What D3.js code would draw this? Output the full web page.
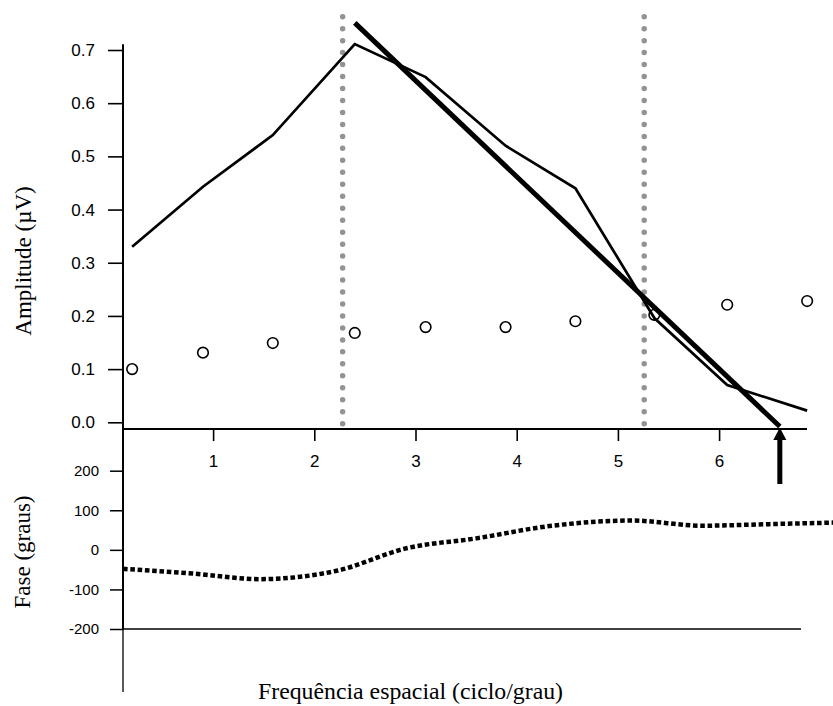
<!DOCTYPE html>
<html lang="en">
  <head>
    <meta charset="utf-8" />
    <title>Amplitude e fase por frequência espacial</title>
    <script src="https://d3js.org/d3.v7.min.js"></script>
    <style>
      body {
        margin: 0;
        background-color: #fff;
      }
      .tick text {
        font-family: "Liberation Sans", Arial, sans-serif;
        fill: #000;
      }
      .label {
        font-family: "Liberation Serif", "Times New Roman", serif;
        fill: #000;
      }
    </style>
  </head>
  <body>
    <div id="chart"></div>
    <script>
      // spatial frequencies (ciclo/grau) and measured amplitudes (µV)
      const freqs = [0.2, 0.9, 1.59, 2.4, 3.1, 3.89, 4.58, 5.36, 6.08, 6.87];
      const amplitude = [0.33, 0.443, 0.54, 0.711, 0.649, 0.52, 0.44, 0.196, 0.07, 0.022];
      const noise = [0.1, 0.131, 0.149, 0.168, 0.179, 0.179, 0.19, 0.202, 0.221, 0.228];

      // regression line and its x intercept (acuity)
      const fitFreq = [2.4, 6.6];
      const fitAmp = [0.751, -0.008];
      const acuity = 6.6;

      // range used for the fit
      const fitRange = [2.28, 5.26];

      // phase (graus)
      const phaseFreq = [0.11, 0.8, 1.46, 2.22, 2.91, 3.6, 4.35, 5.14, 5.83, 6.5, 7.15];
      const phaseDeg = [-48, -60, -74, -53, 4, 29, 61, 74, 61, 65, 69];

      const ampTicks = [0, 0.1, 0.2, 0.3, 0.4, 0.5, 0.6, 0.7];
      const freqTicks = [1, 2, 3, 4, 5, 6];
      const phaseTicks = [200, 100, 0, -100, -200];

      const W = 833, H = 706;
      const axisX = 123;      // shared vertical axis
      const xAxisY = 429;     // frequency axis line
      const xAxisEnd = 807;
      const phaseLineEnd = 801;
      const axisBottom = 692;

      const svg = d3
        .select("#chart")
        .append("svg")
        .attr("width", W)
        .attr("height", H);

      const x = d3.scaleLinear().domain([0, 7]).range([111.9, 111.9 + 7 * 101.2]);
      const yAmp = d3.scaleLinear().domain([0, 0.7]).range([422.3, 50]);
      const yPh = d3.scaleLinear().domain([-200, 200]).range([629, 470.7]);

      // dotted grey limits of the fit range
      svg
        .selectAll(".limit")
        .data(fitRange)
        .enter()
        .append("line")
        .attr("x1", (d) => x(d))
        .attr("x2", (d) => x(d))
        .attr("y1", 16.7)
        .attr("y2", 424)
        .attr("stroke", "#939393")
        .attr("stroke-width", 5.5)
        .attr("stroke-linecap", "round")
        .attr("stroke-dasharray", "0 11.97");

      // amplitude axis
      svg
        .append("g")
        .attr("transform", `translate(${axisX},0)`)
        .style("font-size", "17px")
        .call(
          d3.axisLeft(yAmp)
            .tickValues(ampTicks)
            .tickFormat((d) => d.toFixed(1))
            .tickSize(15)
            .tickPadding(13)
        )
        .call((g) => g.select(".domain").remove())
        .call((g) => g.selectAll("line").attr("stroke", "#000").attr("stroke-width", 1.6));

      // frequency axis
      svg
        .append("g")
        .attr("transform", `translate(0,${xAxisY})`)
        .style("font-size", "17px")
        .call(
          d3.axisBottom(x)
            .tickValues(freqTicks)
            .tickFormat((d) => String(d))
            .tickSize(12)
            .tickPadding(14)
        )
        .call((g) => g.select(".domain").remove())
        .call((g) => g.selectAll("line").attr("stroke", "#000").attr("stroke-width", 1.6));

      svg
        .append("line")
        .attr("x1", axisX)
        .attr("x2", xAxisEnd)
        .attr("y1", xAxisY)
        .attr("y2", xAxisY)
        .attr("stroke", "#000")
        .attr("stroke-width", 1.8);

      // phase axis
      svg
        .append("g")
        .attr("transform", `translate(${axisX},0)`)
        .style("font-size", "15px")
        .call(
          d3.axisLeft(yPh)
            .tickValues(phaseTicks)
            .tickFormat((d) => String(d))
            .tickSize(13)
            .tickPadding(11)
        )
        .call((g) => g.select(".domain").remove())
        .call((g) => g.selectAll("line").attr("stroke", "#000").attr("stroke-width", 1.5));

      svg
        .append("line")
        .attr("x1", axisX)
        .attr("x2", phaseLineEnd)
        .attr("y1", yPh(-200))
        .attr("y2", yPh(-200))
        .attr("stroke", "#000")
        .attr("stroke-width", 1.5);

      // shared vertical axis
      svg
        .append("line")
        .attr("x1", axisX)
        .attr("x2", axisX)
        .attr("y1", 44.3)
        .attr("y2", yPh(-200))
        .attr("stroke", "#000")
        .attr("stroke-width", 2);

      svg
        .append("line")
        .attr("x1", axisX)
        .attr("x2", axisX)
        .attr("y1", yPh(-200))
        .attr("y2", axisBottom)
        .attr("stroke", "#000")
        .attr("stroke-width", 1.3);

      // noise circles
      svg
        .selectAll(".noise")
        .data(freqs.map((f, i) => [f, noise[i]]))
        .enter()
        .append("circle")
        .attr("cx", (d) => x(d[0]))
        .attr("cy", (d) => yAmp(d[1]))
        .attr("r", 5.3)
        .attr("fill", "#fff")
        .attr("stroke", "#000")
        .attr("stroke-width", 1.6);

      const ampLine = d3
        .line()
        .x((d) => x(d[0]))
        .y((d) => yAmp(d[1]));

      // measured amplitude
      svg
        .append("path")
        .datum(freqs.map((f, i) => [f, amplitude[i]]))
        .attr("d", ampLine)
        .attr("fill", "none")
        .attr("stroke", "#000")
        .attr("stroke-width", 2.7)
        .attr("stroke-linejoin", "miter");

      // regression
      svg
        .append("path")
        .datum(fitFreq.map((f, i) => [f, fitAmp[i]]))
        .attr("d", ampLine)
        .attr("fill", "none")
        .attr("stroke", "#000")
        .attr("stroke-width", 5);

      // arrow marking the acuity
      svg
        .append("line")
        .attr("x1", x(acuity))
        .attr("x2", x(acuity))
        .attr("y1", xAxisY + 55)
        .attr("y2", xAxisY + 8)
        .attr("stroke", "#000")
        .attr("stroke-width", 5);

      svg
        .append("path")
        .attr(
          "d",
          `M${x(acuity) - 6.5},${xAxisY + 11} L${x(acuity) + 6.5},${xAxisY + 11} L${x(acuity)},${xAxisY - 1.5} Z`
        )
        .attr("fill", "#000");

      // phase curve
      svg
        .append("path")
        .datum(phaseFreq.map((f, i) => [f, phaseDeg[i]]))
        .attr(
          "d",
          d3
            .line()
            .curve(d3.curveMonotoneX)
            .x((d) => x(d[0]))
            .y((d) => yPh(d[1]))
        )
        .attr("fill", "none")
        .attr("stroke", "#000")
        .attr("stroke-width", 4.5)
        .attr("stroke-dasharray", "4.6 2.7");

      // axis titles
      svg
        .append("text")
        .attr("class", "label")
        .attr("transform", "translate(31,261) rotate(-90)")
        .attr("text-anchor", "middle")
        .style("font-size", "23px")
        .text("Amplitude (µV)");

      svg
        .append("text")
        .attr("class", "label")
        .attr("transform", "translate(30,552) rotate(-90)")
        .attr("text-anchor", "middle")
        .style("font-size", "23px")
        .text("Fase (graus)");

      svg
        .append("text")
        .attr("class", "label")
        .attr("x", 258)
        .attr("y", 699)
        .attr("textLength", 305)
        .attr("lengthAdjust", "spacingAndGlyphs")
        .style("font-size", "23px")
        .text("Frequência espacial (ciclo/grau)");
    </script>
  </body>
</html>
